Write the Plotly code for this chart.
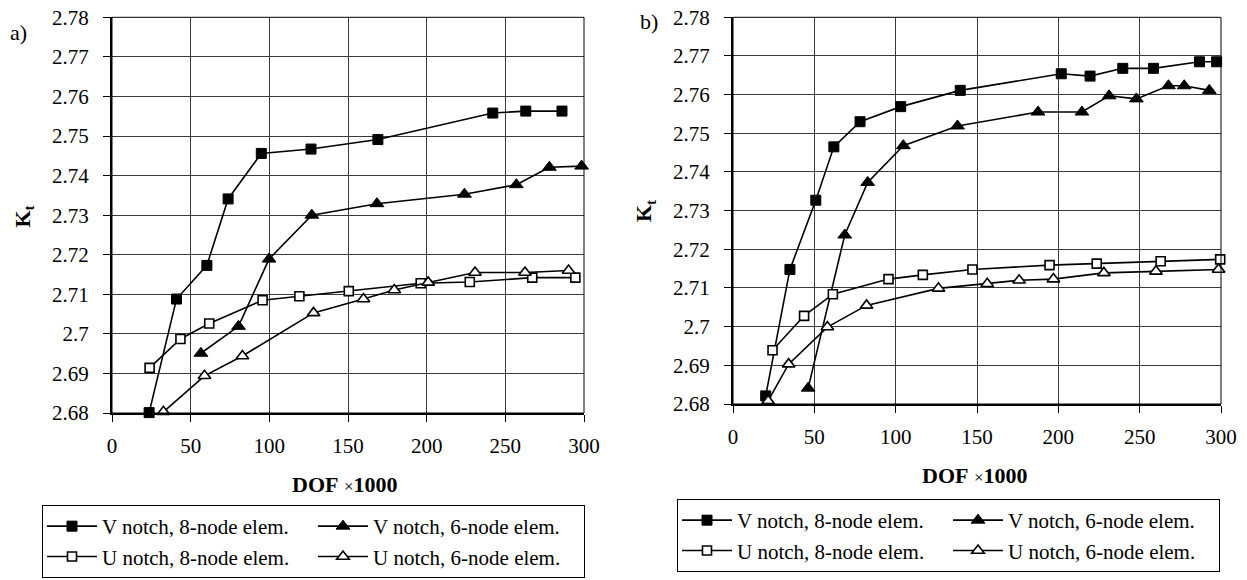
import plotly.graph_objects as go

# ---------------- data ----------------
a_v8_x = [23.6, 41.0, 60.3, 73.8, 94.9, 126.5, 169.0, 242.0, 263.0, 286.0]
a_v8_y = [2.6801, 2.7088, 2.7173, 2.7341, 2.7456, 2.7467, 2.7491, 2.7558, 2.7563, 2.7563]
a_v6_x = [56.5, 80.4, 99.8, 127.0, 168.4, 224.0, 257.0, 278.0, 298.5]
a_v6_y = [2.6951, 2.7019, 2.7189, 2.7300, 2.7329, 2.7353, 2.7377, 2.7421, 2.7424]
a_u8_x = [23.9, 43.5, 61.8, 95.7, 119.1, 150.5, 196.2, 227.4, 267.1, 294.5]
a_u8_y = [2.6914, 2.6987, 2.7026, 2.7085, 2.7095, 2.7108, 2.7128, 2.7131, 2.7142, 2.7142]
a_u6_x = [32.7, 58.8, 82.9, 128.1, 159.8, 179.4, 201.0, 230.7, 262.5, 290.2]
a_u6_y = [2.6803, 2.6894, 2.6944, 2.7053, 2.7088, 2.7111, 2.7130, 2.7155, 2.7155, 2.7160]

b_v8_x = [20.1, 35.0, 50.9, 62.0, 78.1, 103.1, 139.7, 201.8, 219.5, 239.6, 258.5, 286.8, 297.3]
b_v8_y = [2.6821, 2.7148, 2.7327, 2.7465, 2.7530, 2.7569, 2.7611, 2.7654, 2.7648, 2.7668, 2.7668, 2.7685, 2.7685]
b_v6_x = [46.2, 68.7, 82.8, 104.7, 138.0, 187.5, 214.5, 231.2, 248.0, 267.7, 277.4, 292.8]
b_v6_y = [2.6841, 2.7237, 2.7373, 2.7468, 2.7519, 2.7555, 2.7555, 2.7597, 2.7589, 2.7623, 2.7623, 2.7611]
b_u8_x = [24.3, 43.7, 61.4, 95.6, 116.7, 147.2, 194.6, 223.6, 262.9, 299.5]
b_u8_y = [2.6939, 2.7028, 2.7084, 2.7123, 2.7134, 2.7148, 2.7159, 2.7163, 2.7169, 2.7174]
b_u6_x = [21.6, 34.2, 58.0, 82.1, 126.3, 156.3, 175.9, 197.0, 228.0, 260.0, 298.5]
b_u6_y = [2.6808, 2.6903, 2.6999, 2.7055, 2.7099, 2.7111, 2.7120, 2.7123, 2.7139, 2.7143, 2.7148]

series_names = ["V notch, 8-node elem.", "V notch, 6-node elem.",
                "U notch, 8-node elem.", "U notch, 6-node elem."]
y_tick_vals = [2.68, 2.69, 2.70, 2.71, 2.72, 2.73, 2.74, 2.75, 2.76, 2.77, 2.78]
y_tick_labels = ["2.68", "2.69", "2.7", "2.71", "2.72", "2.73", "2.74", "2.75", "2.76", "2.77", "2.78"]
x_tick_vals = [0, 50, 100, 150, 200, 250, 300]
x_tick_labels = ["0", "50", "100", "150", "200", "250", "300"]

# ---------------- layout helpers ----------------
W, H = 1247, 580
FS = 21
FONT = "Liberation Serif"


def px_x(p):
    return p / W


def px_y(p):
    return 1 - p / H


styles = [
    dict(symbol="square", size=10, color="black", line=dict(color="black", width=1)),
    dict(symbol="triangle-up", size=12, color="black", line=dict(color="black", width=1)),
    dict(symbol="square", size=9, color="white", line=dict(color="black", width=1.6)),
    dict(symbol="triangle-up", size=11, color="white", line=dict(color="black", width=1.6)),
]

fig = go.Figure()

panels = [
    ("x", "y", "legend", [(a_v8_x, a_v8_y), (a_v6_x, a_v6_y), (a_u8_x, a_u8_y), (a_u6_x, a_u6_y)], "a"),
    ("x2", "y2", "legend2", [(b_v8_x, b_v8_y), (b_v6_x, b_v6_y), (b_u8_x, b_u8_y), (b_u6_x, b_u6_y)], "b"),
]

for xa, ya, leg, data, tag in panels:
    for i, (xs, ys) in enumerate(data):
        fig.add_trace(go.Scatter(
            x=xs, y=ys, mode="lines+markers", name=series_names[i],
            xaxis=xa, yaxis=ya, legend=leg,
            legendgroup=tag + ("8" if i in (0, 2) else "6"),
            line=dict(color="black", width=1.6),
            marker=styles[i], cliponaxis=False,
        ))

axis_common = dict(
    showgrid=True, gridcolor="#3a3a3a", gridwidth=1,
    showline=True, linecolor="black", linewidth=2,
    ticks="outside", ticklen=7, tickwidth=1.2, tickcolor="black",
    tickfont=dict(family=FONT, size=FS, color="black"),
    ticklabeloverflow="allow",
    zeroline=False, fixedrange=True,
)

legend_common = dict(
    orientation="h", traceorder="grouped", xanchor="left", yanchor="top",
    bordercolor="black", borderwidth=1, bgcolor="white",
    font=dict(family=FONT, size=FS, color="black"),
    entrywidth=206, entrywidthmode="pixels", itemwidth=50, tracegroupgap=0,
)

fig.update_layout(
    width=W, height=H, margin=dict(l=0, r=0, t=0, b=0, autoexpand=False),
    paper_bgcolor="white", plot_bgcolor="white",
    font=dict(family=FONT, size=FS, color="black"),
    xaxis=dict(domain=[px_x(112), px_x(584)], range=[0, 300], anchor="y",
               tickvals=x_tick_vals, ticktext=x_tick_labels, ticklabelstandoff=6, **axis_common),
    yaxis=dict(domain=[px_y(413), px_y(17.3)], range=[2.68, 2.78], anchor="x",
               tickvals=y_tick_vals, ticktext=y_tick_labels, ticklabelstandoff=10, **axis_common),
    xaxis2=dict(domain=[px_x(733), px_x(1221)], range=[0, 300], anchor="y2",
                tickvals=x_tick_vals, ticktext=x_tick_labels, ticklabelstandoff=6, **axis_common),
    yaxis2=dict(domain=[px_y(404), px_y(17.3)], range=[2.68, 2.78], anchor="x2",
                tickvals=y_tick_vals, ticktext=y_tick_labels, ticklabelstandoff=10, **axis_common),
    legend=dict(x=px_x(42), y=px_y(505), **legend_common),
    legend2=dict(x=px_x(677), y=px_y(499), **legend_common),
    showlegend=True,
)

for xr, yr in (("x domain", "y domain"), ("x2 domain", "y2 domain")):
    fig.add_shape(type="rect", xref=xr, yref=yr, x0=0, x1=1, y0=0, y1=1,
                  line=dict(color="black", width=1), layer="above")

ann = []
ann.append(dict(text="a)", x=px_x(18), y=px_y(32)))
ann.append(dict(text="b)", x=px_x(649), y=px_y(22)))
ann.append(dict(text="<b>DOF</b> <span style='font-size:17px'>×</span><b>1000</b>", x=px_x(345), y=px_y(485)))
ann.append(dict(text="<b>DOF</b> <span style='font-size:17px'>×</span><b>1000</b>", x=px_x(975), y=px_y(475)))
for a in ann:
    fig.add_annotation(xref="paper", yref="paper", showarrow=False,
                       xanchor="center", yanchor="middle",
                       font=dict(family=FONT, size=FS + 1, color="black"), **a)
for xp, yp in ((23.5, 216), (645, 211)):
    fig.add_annotation(text="<b>K<sub>t</sub></b>", xref="paper", yref="paper",
                       x=px_x(xp), y=px_y(yp), showarrow=False, textangle=-90,
                       xanchor="center", yanchor="middle",
                       font=dict(family=FONT, size=FS + 1, color="black"))

# remove the default page margin so the figure fills the 1247x580 window exactly
fig.write_html("out.html",
               config={"displayModeBar": False, "staticPlot": False},
               post_script="document.body.style.margin='0';document.body.style.overflow='hidden';")
